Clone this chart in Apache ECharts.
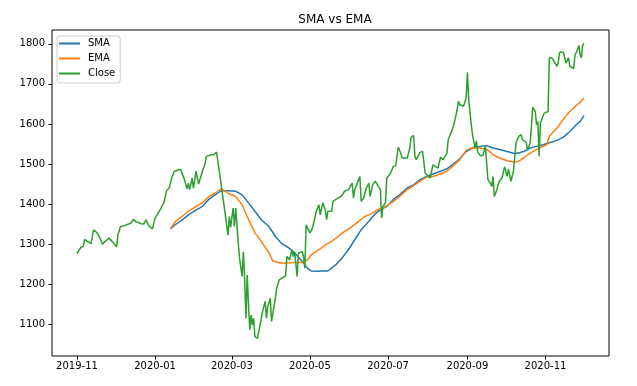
<!DOCTYPE html>
<html>
<head>
<meta charset="utf-8">
<script src="https://cdn.jsdelivr.net/npm/echarts@6/dist/echarts.min.js"></script>
<style>html,body{margin:0;padding:0;background:#fff}#c{width:637px;height:386px}</style>
</head>
<body>
<div id="c"></div>
<script>
// Day offsets are counted from START_DATE (2019-11-01)
const START_DATE = '2019-11-01';
const tickLabelsX = ['2019-11', '2020-01', '2020-03', '2020-05', '2020-07', '2020-09', '2020-11'];
const tickValuesY = [1100, 1200, 1300, 1400, 1500, 1600, 1700, 1800];
const seriesNames = ['SMA', 'EMA', 'Close'];

const closeDays = [0,3,5,6,8,11,13,16,18,20,22,25,28,31,32,34,37,40,42,44,46,48,50,52,54,56,59,61,62,65,67,68,70,72,74,76,78,81,
  82,84,86,87,88,90,91,93,95,98,100,101,105,107,109,111,113,115,118,119,120,122,123,124,126,127,129,130,131,132,133,134,135,136,137,138,139,141,142,144,145,147,148,149,151,152,153,155,156,
  158,159,163,164,166,168,169,170,172,173,176,177,178,179,182,184,186,187,189,190,192,194,195,196,199,200,202,204,207,208,209,212,215,216,217,220,221,222,224,226,228,229,231,233,234,237,238,239,240,241,
  242,245,247,249,251,253,254,258,260,261,263,264,265,268,270,272,273,276,278,282,284,286,289,290,293,295,297,298,299,302,304,305,306,308,309,311,312,313,315,317,
  319,320,321,323,324,325,326,328,329,330,332,334,336,337,339,341,342,343,345,347,348,351,352,354,355,356,358,359,360,361,362,364,365,366,368,369,371,372,375,376,377,380,381,382,384,385,386,388,389,391,392,393,394,395,396];
const closeValues = [1276,1292,1294,1312,1307,1301,1336,1327,1315,1300,1307,1315,1305,1293,1323,1344,1346,1350,1352,1362,1356,1354,1351,1350,1361,1346,1338,1365,1363,1386,1398,1404,1433,1440,1465,1482,1484,1487,
  1488,1461,1438,1452,1436,1465,1440,1482,1450,1482,1500,1519,1523,1523,1530,1486,1440,1394,1322,1369,1342,1390,1344,1390,1302,1265,1219,1281,1215,1115,1223,1148,1086,1123,1098,1115,1069,1065,1061,1115,1132,1157,1115,1144,1165,1107,1103,1165,1190,
  1211,1215,1221,1269,1261,1286,1269,1281,1219,1278,1281,1269,1240,1348,1328,1340,1369,1382,1398,1373,1403,1386,1361,1382,1382,1407,1411,1415,1421,1427,1432,1436,1452,1415,1436,1461,1469,1407,1415,1440,1452,1419,1448,1457,1461,1436,1365,1394,1390,1403,
  1465,1477,1494,1496,1542,1527,1515,1515,1540,1567,1571,1519,1511,1529,1531,1477,1473,1465,1498,1490,1517,1511,1527,1561,1584,1606,1636,1657,1648,1644,1665,1729,1661,1598,1573,1540,1557,1531,1521,1521,
  1544,1506,1461,1452,1444,1469,1419,1436,1448,1457,1465,1493,1469,1487,1457,1482,1519,1553,1569,1573,1561,1553,1536,1553,1594,1642,1631,1598,1606,1519,1602,1619,1627,1631,1631,1765,1765,1763,1744,1754,1779,1779,1782,1752,1765,1744,1740,1738,1771,1786,1796,1773,1765,1796,1801];

const smaDays = [73,77,82,87,92,98,103,108,112,114,118,124,129,134,139,144,150,155,160,165,170,176,180,183,187,191,196,202,207,212,217,222,228,233,238,242,247,252,258,263,268,273,278,284,289,294,299,304,310,315,320,325,330,336,341,343,349,354,359,364,369,375,380,385,390,393,396];
const smaValues = [1338,1349,1360,1373,1383,1394,1412,1423,1432,1433,1433,1432,1423,1403,1382,1361,1344,1319,1301,1292,1278,1257,1240,1233,1232,1233,1233,1248,1265,1286,1311,1336,1357,1376,1388,1394,1411,1423,1440,1448,1461,1469,1475,1482,1488,1500,1513,1531,1542,1544,1546,1540,1536,1531,1527,1526,1531,1540,1544,1548,1553,1559,1567,1581,1598,1606,1621];

const emaDays = [73,77,82,87,92,98,103,108,112,114,118,124,129,133,139,144,150,153,159,165,170,176,180,183,189,194,199,204,209,215,220,225,230,235,239,242,247,252,258,263,268,273,278,284,289,294,299,304,308,315,320,325,330,336,341,345,349,354,359,364,367,369,375,380,385,390,393,396];
const emaValues = [1338,1357,1369,1382,1392,1403,1419,1427,1437,1436,1427,1419,1398,1369,1328,1307,1278,1258,1253,1253,1254,1254,1261,1273,1286,1298,1307,1319,1332,1344,1357,1369,1376,1386,1390,1396,1406,1419,1436,1446,1457,1467,1469,1475,1482,1496,1511,1534,1540,1540,1537,1523,1515,1508,1505,1507,1515,1527,1536,1544,1548,1569,1590,1612,1631,1646,1654,1665];

const DAY = 86400000;
const t0 = Date.parse(START_DATE + 'T00:00:00Z');
const toTs = d => t0 + d * DAY;
const pairs = (days, vals) => days.map((d, i) => [toTs(d), vals[i]]);
const tickTs = tickLabelsX.map(s => Date.parse(s + '-01T00:00:00Z'));
const fmt = v => { const d = new Date(v); return d.getUTCFullYear() + '-' + String(d.getUTCMonth() + 1).padStart(2, '0'); };

const font = 'DejaVu Sans';
const chart = echarts.init(document.getElementById('c'), null, {renderer: 'canvas'});
chart.setOption({
  animation: false,
  backgroundColor: '#fff',
  color: ['#1f77b4', '#ff7f0e', '#2ca02c'],
  title: {
    text: 'SMA vs EMA', left: 330, top: 9, textAlign: 'center',
    textStyle: {fontFamily: font, fontSize: 12, fontWeight: 'normal', color: '#000'}
  },
  legend: {
    left: 57, top: 36, orient: 'vertical', icon: 'rect', itemWidth: 21, itemHeight: 2, itemGap: 2,
    padding: [1, 5, 3, 2],
    backgroundColor: 'rgba(255,255,255,0.8)', borderColor: '#cccccc', borderWidth: 1, borderRadius: 3,
    textStyle: {fontFamily: font, fontSize: 10, color: '#000', lineHeight: 13, padding: [0, 0, 0, 3]},
    data: seriesNames
  },
  grid: {left: 52, right: 28, top: 30, bottom: 30, show: true, borderColor: '#000', borderWidth: 1, backgroundColor: 'transparent'},
  xAxis: {
    type: 'value',
    min: toTs(-19.5), max: toTs(415.6),
    axisLine: {show: false},
    splitLine: {show: false},
    axisTick: {show: true, length: 3.5, lineStyle: {color: '#000'}, customValues: tickTs},
    axisLabel: {customValues: tickTs, formatter: fmt, fontFamily: font, fontSize: 10, color: '#000', margin: 5, hideOverlap: false}
  },
  yAxis: {
    type: 'value', min: 1020.75, max: 1834.5,
    axisLine: {show: false},
    splitLine: {show: false},
    axisTick: {show: true, length: 3.5, lineStyle: {color: '#000'}, customValues: tickValuesY},
    axisLabel: {customValues: tickValuesY, formatter: v => String(v), fontFamily: font, fontSize: 10, color: '#000', margin: 7}
  },
  series: [
    {name: seriesNames[0], type: 'line', data: pairs(smaDays, smaValues), showSymbol: false, symbol: 'none', lineStyle: {width: 1.5}},
    {name: seriesNames[1], type: 'line', data: pairs(emaDays, emaValues), showSymbol: false, symbol: 'none', lineStyle: {width: 1.5}},
    {name: seriesNames[2], type: 'line', data: pairs(closeDays, closeValues), showSymbol: false, symbol: 'none', lineStyle: {width: 1.5}}
  ]
});
</script>
</body>
</html>
